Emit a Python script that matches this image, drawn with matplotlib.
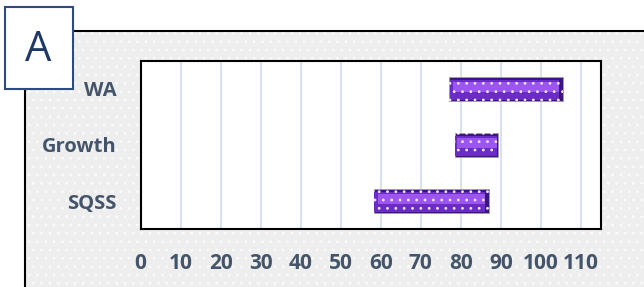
import numpy as np
import matplotlib.pyplot as plt
from matplotlib.patches import Rectangle

# Dados (inicio e fim de cada faixa)
categorias = ["SQSS", "Growth", "WA"]
inicio = [58.2, 78.6, 77.1]
fim = [87.0, 89.4, 105.4]
ticks_x = [0, 10, 20, 30, 40, 50, 60, 70, 80, 90, 100, 110]

largura = np.array(fim) - np.array(inicio)
cor_texto = '#44546A'

plt.rcParams['font.family'] = ['Open Sans', 'DejaVu Sans']
plt.rcParams['hatch.linewidth'] = 0.8

fig = plt.figure(figsize=(6.44, 2.87), dpi=100)
fig.patch.set_facecolor('white')

# Fundo do grafico (area com textura)
fundo = Rectangle((25 / 644, 0 - 0.01), 1.0, 1 - 31 / 287 + 0.01, transform=fig.transFigure,
                  facecolor='#eeeeee', edgecolor='#fbfbfb', hatch='..', linewidth=0, zorder=0)
fig.patches.append(fundo)
borda = Rectangle((25 / 644, -0.05), 1.0, 1 - 31 / 287 + 0.05, transform=fig.transFigure,
                  facecolor='none', edgecolor='black', linewidth=1.5, zorder=1)
fig.patches.append(borda)

ax = fig.add_axes([140.5 / 644, 1 - 229 / 287, 460.5 / 644, 168 / 287])
ax.set_facecolor('white')
ax.set_zorder(2)

y = np.arange(len(categorias))
h = 0.42

# Barras com efeito de bisel
ax.barh(y, largura, left=inicio, height=h, color='#3d1580', edgecolor='#a0a0a0',
        linewidth=0.6, zorder=3)
ax.barh(y - h * 0.05, largura * 0.965, left=np.array(inicio) + largura * 0.005, height=h * 0.86,
        color='#6a2cc4', linewidth=0, zorder=4)
ax.barh(y + h * 0.1, largura * 0.93, left=np.array(inicio) + largura * 0.035, height=h * 0.42,
        color='#9d55f0', linewidth=0, zorder=5)
ax.barh(y, largura, left=inicio, height=h, color='none', edgecolor='#f0e6ff',
        hatch='..', linewidth=0, zorder=6)

ax.set_xlim(0, 115)
ax.set_ylim(-0.5, len(categorias) - 0.5)
ax.set_xticks(ticks_x)
ax.set_yticks(y)
ax.set_yticklabels(categorias)
ax.grid(axis='x', color='#d9e1ea', linewidth=1.5, zorder=1)
ax.set_axisbelow(True)
ax.tick_params(axis='both', length=0, labelcolor=cor_texto)
ax.tick_params(axis='x', pad=17, labelsize=15)
ax.tick_params(axis='y', pad=17, labelsize=14.5)
for lbl in ax.get_xticklabels() + ax.get_yticklabels():
    lbl.set_fontweight('bold')
for s in ax.spines.values():
    s.set_color('black')
    s.set_linewidth(1.5)

# Caixa com a letra do painel
caixa = Rectangle((5 / 644, 1 - 89 / 287), 68 / 644, 82 / 287, transform=fig.transFigure,
                  facecolor='white', edgecolor='#2f4a7f', linewidth=1.5, zorder=10)
fig.patches.append(caixa)
fig.text(38 / 644, 1 - 50 / 287, "A", ha='center', va='center', fontsize=30,
         color='#1f3864', zorder=11)

plt.savefig("out.png", dpi=100)
